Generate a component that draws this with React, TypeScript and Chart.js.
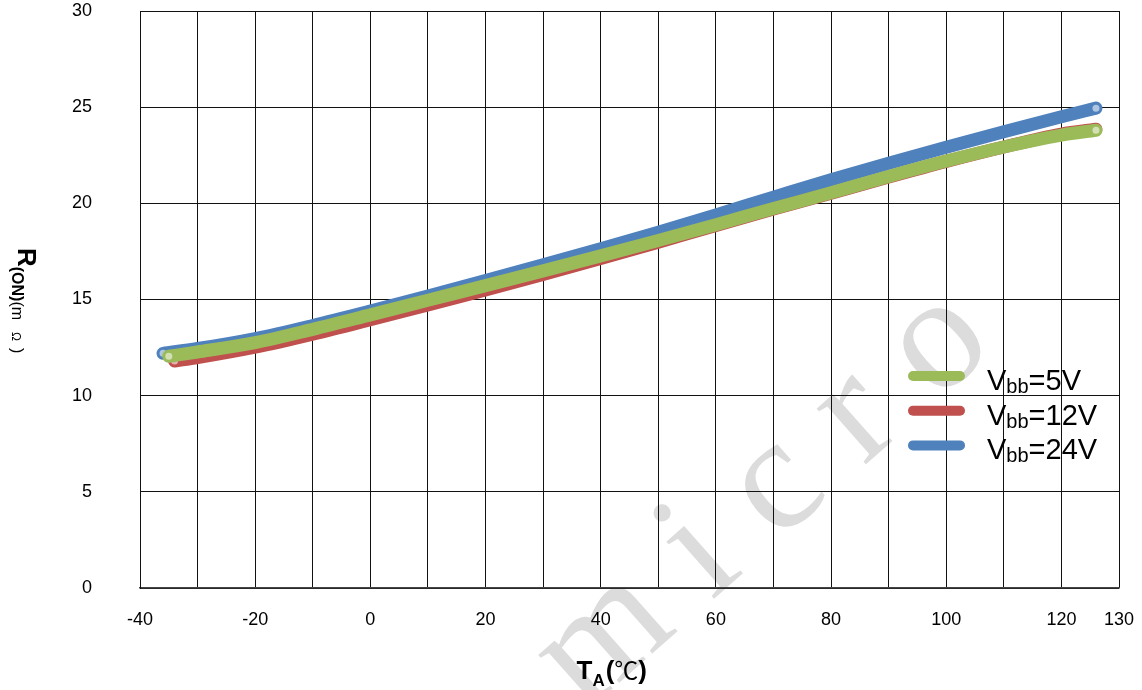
import { useEffect, useRef } from 'react';
import { Chart, registerables } from 'chart.js';

Chart.register(...registerables);

// Ambient temperature (°C) sample points for each supply voltage
const tempVbb5 = [-35, -30, -20, -10, 0, 10, 20, 30, 40, 50, 60, 70, 80, 90, 100, 110, 120, 126];
const tempVbb12 = [-34, -30, -20, -10, 0, 10, 20, 30, 40, 50, 60, 70, 80, 90, 100, 110, 120, 126];
const tempVbb24 = [-36, -30, -20, -10, 0, 10, 20, 30, 40, 50, 60, 70, 80, 90, 100, 110, 120, 126];

// On-resistance (mΩ)
const ronVbb5 = [12.05, 12.27, 12.76, 13.45, 14.2, 14.96, 15.72, 16.49, 17.27, 18.07, 18.89, 19.73, 20.55, 21.4, 22.2, 22.93, 23.55, 23.8];
const ronVbb12 = [11.8, 11.98, 12.52, 13.2, 13.95, 14.72, 15.5, 16.3, 17.13, 17.98, 18.85, 19.7, 20.53, 21.37, 22.18, 22.93, 23.6, 23.85];
const ronVbb24 = [12.2, 12.45, 12.97, 13.65, 14.4, 15.18, 15.98, 16.8, 17.64, 18.5, 19.4, 20.32, 21.23, 22.09, 22.92, 23.72, 24.5, 24.95];

const supplyLabels = ['5V', '12V', '24V'];
const seriesColors = ['#9BBB59', '#C0504D', '#4F81BD'];

const xTickLabels = [-40, -20, 0, 20, 40, 60, 80, 100, 120, 130];

const SANS = '"Liberation Sans", Arial, sans-serif';

const toPoints = (xs: number[], ys: number[]) => xs.map((x, i) => ({ x, y: ys[i] }));

// Faint diagonal "micro" watermark behind the grid
const watermarkPlugin = {
  id: 'watermark',
  beforeDraw(chart: any) {
    const ctx = chart.ctx as CanvasRenderingContext2D;
    ctx.save();
    ctx.translate(585, 713);
    ctx.rotate((-41.5 * Math.PI) / 180);
    ctx.font = '162px "Liberation Serif", "DejaVu Serif", serif';
    (ctx as any).letterSpacing = '43px';
    ctx.fillStyle = '#dcdcdc';
    ctx.textAlign = 'left';
    ctx.textBaseline = 'alphabetic';
    ctx.fillText('micro', 0, 0);
    ctx.restore();
  },
};

// Axis titles with subscripts and the legend (Vbb subscript)
const labelsPlugin = {
  id: 'subscriptLabels',
  afterDraw(chart: any) {
    const ctx = chart.ctx as CanvasRenderingContext2D;
    const area = chart.chartArea;
    ctx.save();
    ctx.fillStyle = '#000';
    ctx.textBaseline = 'alphabetic';
    ctx.textAlign = 'left';

    // Y title: R(ON)(mΩ), reading top to bottom
    ctx.save();
    ctx.translate(18, 248);
    ctx.rotate(Math.PI / 2);
    ctx.font = `bold 26px ${SANS}`;
    ctx.fillText('R', 0, 0);
    let px = ctx.measureText('R').width;
    ctx.font = `bold 16px ${SANS}`;
    ctx.fillText('(ON)', px, 6);
    px += ctx.measureText('(ON)').width;
    ctx.font = `16px ${SANS}`;
    ctx.fillText('(m', px, 6);
    px += ctx.measureText('(m').width + 12;
    ctx.font = `12px ${SANS}`;
    ctx.fillText('Ω', px, 6);
    px += ctx.measureText('Ω').width + 7;
    ctx.font = `16px ${SANS}`;
    ctx.fillText(')', px, 6);
    ctx.restore();

    // X title: TA(℃)
    const tx = (area.left + area.right) / 2 - 53;
    ctx.font = `bold 26px ${SANS}`;
    ctx.fillText('T', tx, 679);
    let qx = tx + ctx.measureText('T').width;
    ctx.font = `bold 17px ${SANS}`;
    ctx.fillText('A', qx, 686);
    qx += ctx.measureText('A').width + 1;
    ctx.font = `bold 26px ${SANS}`;
    ctx.fillText('(', qx, 679);
    qx += ctx.measureText('(').width;
    ctx.font = `24px "Noto Sans CJK SC", sans-serif`;
    ctx.fillText('℃', qx, 679);
    qx += ctx.measureText('℃').width;
    ctx.font = `bold 26px ${SANS}`;
    ctx.fillText(')', qx, 679);

    // Legend
    const lx0 = 913;
    const lx1 = 960;
    const textX = 987;
    supplyLabels.forEach((v, i) => {
      const cy = 376 + i * 34.7;
      ctx.strokeStyle = seriesColors[i];
      ctx.lineWidth = 10;
      ctx.lineCap = 'round';
      ctx.beginPath();
      ctx.moveTo(lx0, cy);
      ctx.lineTo(lx1, cy);
      ctx.stroke();
      const base = cy + 14;
      ctx.font = `29px ${SANS}`;
      ctx.fillText('V', textX, base);
      let sx = textX + ctx.measureText('V').width;
      ctx.font = `20px ${SANS}`;
      ctx.fillText('bb', sx, base + 3);
      sx += ctx.measureText('bb').width;
      ctx.font = `29px ${SANS}`;
      ctx.fillText('=' + v, sx, base);
    });
    ctx.restore();
  },
};

// Open marker ring at both ends of each curve
const endRadius = (ctx: any) => {
  const n = ctx.dataset.data.length;
  return ctx.dataIndex === 0 || ctx.dataIndex === n - 1 ? 4.5 : 0;
};

export default function App() {
  const canvasRef = useRef<HTMLCanvasElement | null>(null);

  useEffect(() => {
    document.body.style.margin = '0';
    const canvas = canvasRef.current;
    if (!canvas) return;

    const lineStyle = {
      borderWidth: 13,
      borderCapStyle: 'round' as const,
      borderJoinStyle: 'round' as const,
      pointRadius: endRadius,
      pointBorderWidth: 2,
      pointBackgroundColor: 'rgba(255,255,255,0.55)',
      cubicInterpolationMode: 'monotone' as const,
      fill: false,
    };

    const chart = new Chart(canvas, {
      type: 'line',
      data: {
        datasets: [
          { label: 'Vbb=24V', data: toPoints(tempVbb24, ronVbb24), borderColor: seriesColors[2], pointBorderColor: seriesColors[2], order: 3, ...lineStyle },
          { label: 'Vbb=12V', data: toPoints(tempVbb12, ronVbb12), borderColor: seriesColors[1], pointBorderColor: seriesColors[1], order: 2, ...lineStyle },
          { label: 'Vbb=5V', data: toPoints(tempVbb5, ronVbb5), borderColor: seriesColors[0], pointBorderColor: seriesColors[0], order: 1, ...lineStyle },
        ],
      },
      options: {
        animation: false,
        responsive: false,
        devicePixelRatio: 1,
        layout: { padding: { top: 11, right: 23, left: 0, bottom: 0 } },
        plugins: {
          legend: { display: false },
          tooltip: { enabled: false },
        },
        scales: {
          x: {
            type: 'linear',
            min: -40,
            max: 130,
            afterFit: (scale: any) => { scale.height = 102; },
            afterBuildTicks: (scale: any) => {
              const ticks = [];
              for (let v = -40; v <= 130; v += 10) ticks.push({ value: v });
              scale.ticks = ticks;
            },
            grid: { color: '#111', lineWidth: 1, drawTicks: true, tickLength: 21, tickColor: 'rgba(0,0,0,0)' },
            border: { display: true, color: '#444', width: 1.5 },
            ticks: {
              autoSkip: false,
              maxRotation: 0,
              padding: 0,
              color: '#000',
              font: { family: SANS, size: 18 },
              callback: (value: any) => (xTickLabels.includes(Number(value)) ? String(value) : ''),
            },
          },
          y: {
            min: 0,
            max: 30,
            afterFit: (scale: any) => { scale.width = 140; },
            grid: { color: '#111', lineWidth: 1, drawTicks: true, tickLength: 48, tickColor: 'rgba(0,0,0,0)' },
            border: { display: true, color: '#111', width: 1 },
            ticks: {
              stepSize: 5,
              padding: 0,
              color: '#000',
              font: { family: SANS, size: 18 },
            },
          },
        },
      },
      plugins: [watermarkPlugin, labelsPlugin],
    });

    return () => chart.destroy();
  }, []);

  return (
    <div style={{ width: 1142, height: 690, background: '#fff' }}>
      <canvas ref={canvasRef} width={1142} height={690} style={{ display: 'block' }} />
    </div>
  );
}
